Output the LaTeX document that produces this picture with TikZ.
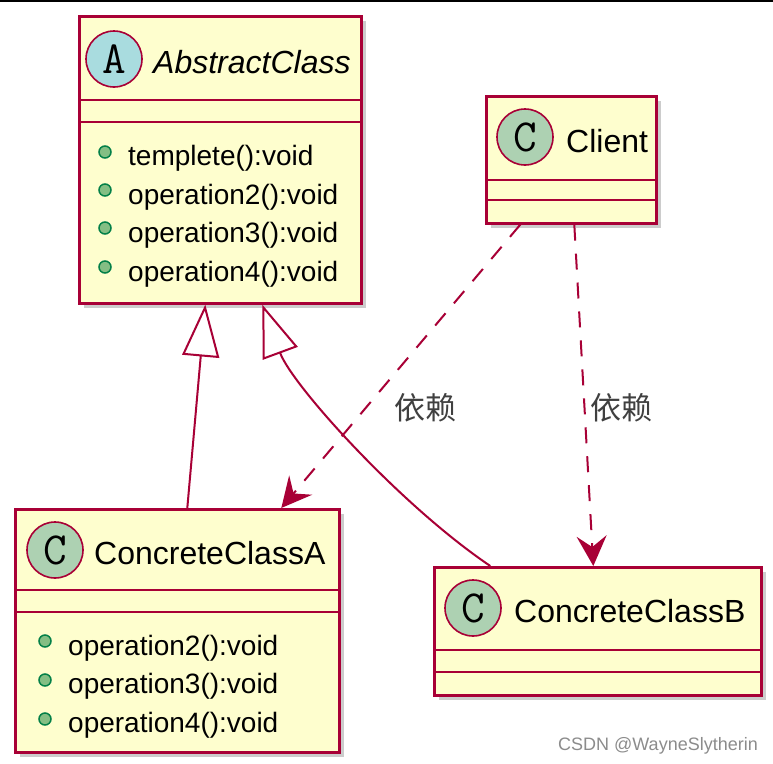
\documentclass[tikz,border=0pt]{standalone}
\usepackage{fontspec}
\setmainfont{Liberation Sans}
\newfontfamily\cjk{Noto Sans CJK SC}
\usetikzlibrary{arrows.meta,shadows,calc}
\definecolor{bord}{HTML}{A80036}
\definecolor{boxfill}{HTML}{FEFECE}
\definecolor{circA}{HTML}{A9DCDF}
\definecolor{circC}{HTML}{ADD1B2}
\definecolor{mfill}{HTML}{84BE84}
\definecolor{mbord}{HTML}{038048}
\begin{document}
\begin{tikzpicture}[x=1pt,y=-1pt,
 classbox/.style={draw=bord, fill=boxfill, line width=2.6pt, anchor=north west, inner sep=0pt, drop shadow={shadow xshift=5pt,shadow yshift=-5pt,opacity=0.4}},
 divider/.style={draw=bord, line width=2.6pt},
 spot/.style={circle, draw=bord, line width=1.6pt, minimum size=56pt, inner sep=0pt, font=\ttfamily\fontsize{46}{46}\selectfont},
 bullet/.style={circle, draw=mbord, fill=mfill, line width=1.5pt, minimum size=12pt, inner sep=0pt},
 cname/.style={anchor=base west, inner sep=0pt, font=\fontsize{32}{38}\selectfont},
 meth/.style={anchor=base west, inner sep=0pt, font=\fontsize{28}{34}\selectfont},
 inh/.style={draw=bord, line width=2pt, -{Triangle[length=52pt,width=37pt,fill=white]}},
 dep/.style={draw=bord, line width=2pt, dash pattern=on 16pt off 13pt, -{Stealth[length=30pt,width=30pt,inset=11pt]}},
 lbl/.style={font=\cjk\fontsize{31}{34}\selectfont, text=black!75, inner sep=0pt}
]
\useasboundingbox (0,0) rectangle (773,763);
\fill[white] (0,0) rectangle (773,763);
\draw[line width=2pt] (0,1) -- (773,1);

% AbstractClass
\node[classbox, minimum width=282pt, minimum height=287pt] (abs) at (78,15) {};
\draw[divider] (78,100) -- (360,100);
\draw[divider] (78,122) -- (360,122);
\node[spot, fill=circA] (absS) at (114,59) {A};
\node[cname, font=\fontsize{32}{38}\selectfont\itshape] (absN) at (153,73) {AbstractClass};
\node[bullet] (ab1) at (105,152) {};
\node[meth] (am1) at (128,165) {templete():void};
\node[bullet] (ab2) at (105,190) {};
\node[meth] (am2) at (128,204) {operation2():void};
\node[bullet] (ab3) at (105,228) {};
\node[meth] (am3) at (128,242) {operation3():void};
\node[bullet] (ab4) at (105,267) {};
\node[meth] (am4) at (128,281) {operation4():void};

% Client
\node[classbox, minimum width=170pt, minimum height=127pt] (cl) at (485,95) {};
\draw[divider] (485,180) -- (655,180);
\draw[divider] (485,200) -- (655,200);
\node[spot, fill=circC] (clS) at (525,137) {C};
\node[cname] (clN) at (566,152) {Client};

% ConcreteClassA
\node[classbox, minimum width=324pt, minimum height=243pt] (ca) at (14,508) {};
\draw[divider] (14,590) -- (338,590);
\draw[divider] (14,612) -- (338,612);
\node[spot, fill=circC] (caS) at (55,550) {C};
\node[cname] (caN) at (94,564) {ConcreteClassA};
\node[bullet] (cb1) at (45,641) {};
\node[meth] (cm1) at (68,655) {operation2():void};
\node[bullet] (cb2) at (45,680) {};
\node[meth] (cm2) at (68,693) {operation3():void};
\node[bullet] (cb3) at (45,719) {};
\node[meth] (cm3) at (68,732) {operation4():void};

% ConcreteClassB
\node[classbox, minimum width=327pt, minimum height=128pt] (cb) at (433,566) {};
\draw[divider] (433,650) -- (760,650);
\draw[divider] (433,672) -- (760,672);
\node[spot, fill=circC] (cbS) at (473,608) {C};
\node[cname] (cbN) at (514,622) {ConcreteClassB};

% connectors
\draw[inh] ($(ca.north)+(10,0)$) -- ($(abs.south)+(-15,0)$);
\draw[inh] ($(cb.north)+(-107.5,0)$) .. controls (400,505) and (292,385) .. ($(abs.south)+(42,0)$);
\draw[dep] ($(cl.south)+(-51,0)$) -- ($(ca.north)+(104,0)$);
\draw[dep] ($(cl.south)+(3,0)$) -- ($(cb.north)+(-4.5,0)$);

\node[lbl] (l1) at (425,408) {依赖};
\node[lbl] (l2) at (621,408) {依赖};

\node[anchor=base east, inner sep=0pt, text=black!45, font=\fontsize{18}{20}\selectfont] (wm) at (758,750) {CSDN @WayneSlytherin};
\end{tikzpicture}
\end{document}
